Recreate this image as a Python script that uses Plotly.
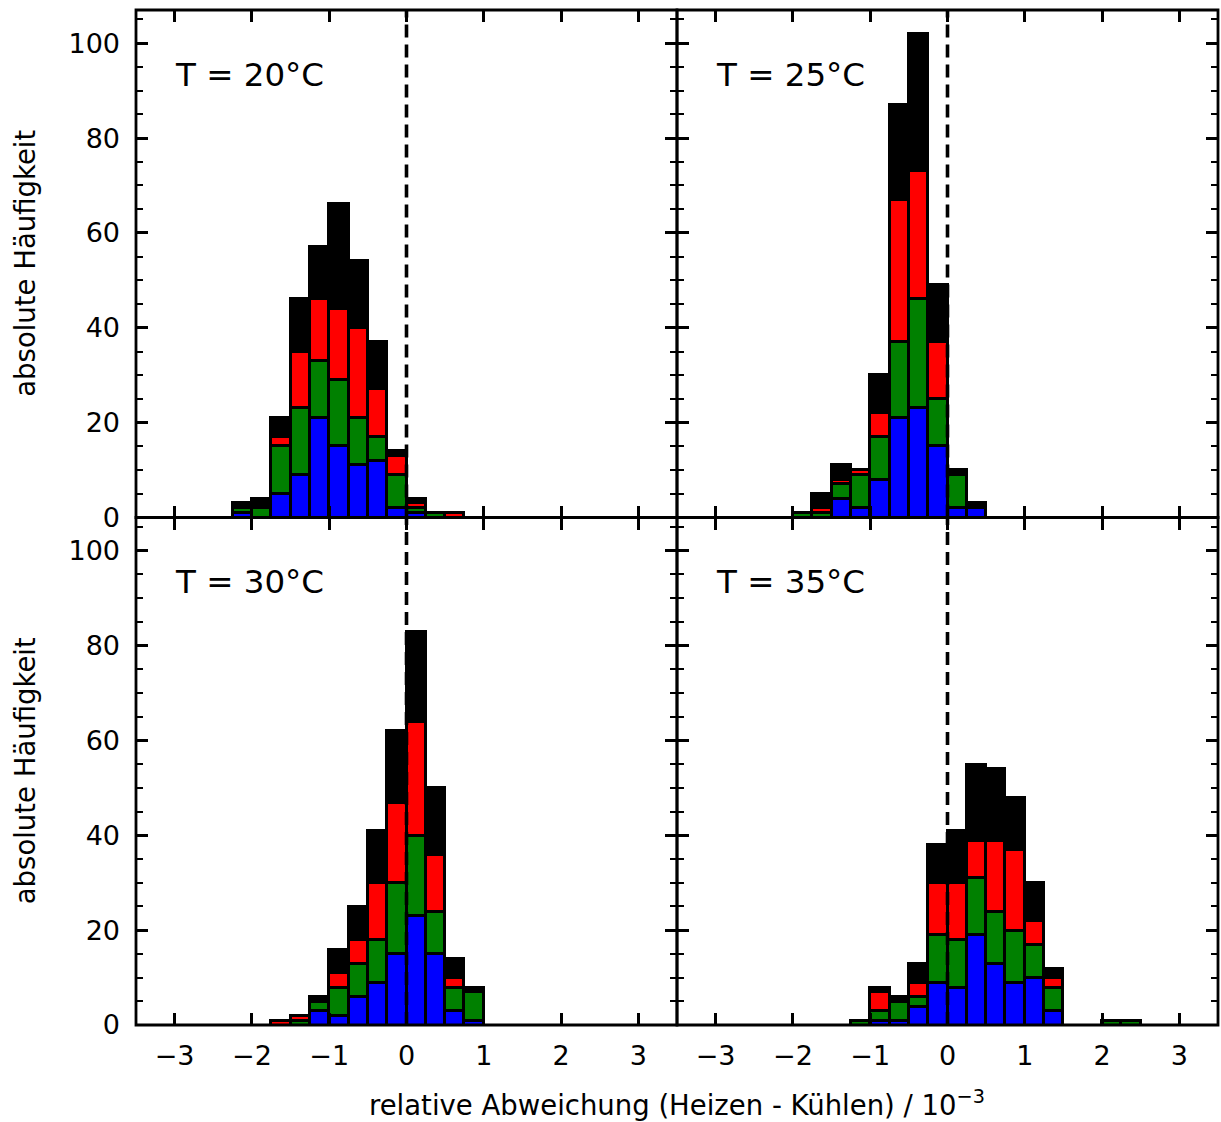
import plotly.graph_objects as go
from plotly.subplots import make_subplots

# Histogram bins: width 0.25, left edges from -2.25 up to 2.25 (units of 1e-3)
bin_width = 0.25
bin_left = [-2.25, -2.0, -1.75, -1.5, -1.25, -1.0, -0.75, -0.5, -0.25,
            0.0, 0.25, 0.5, 0.75, 1.0, 1.25, 1.5, 1.75, 2.0, 2.25]

temperatures = ["T = 20°C", "T = 25°C", "T = 30°C", "T = 35°C"]

# Counts per bin for each stacked layer (blue bottom, then green, red, black)
t20_blue  = [1, 0, 5, 9, 21, 15, 11, 12, 2, 1, 0, 0, 0, 0, 0, 0, 0, 0, 0]
t20_green = [1, 2, 10, 14, 12, 14, 10, 5, 7, 1, 1, 0, 0, 0, 0, 0, 0, 0, 0]
t20_red   = [0, 0, 2, 12, 13, 15, 19, 10, 4, 1, 0, 1, 0, 0, 0, 0, 0, 0, 0]
t20_black = [1, 2, 4, 11, 11, 22, 14, 10, 1, 1, 0, 0, 0, 0, 0, 0, 0, 0, 0]

t25_blue  = [0, 0, 0, 4, 2, 8, 21, 23, 15, 2, 2, 0, 0, 0, 0, 0, 0, 0, 0]
t25_green = [0, 1, 1, 3, 7, 9, 16, 23, 10, 7, 0, 0, 0, 0, 0, 0, 0, 0, 0]
t25_red   = [0, 0, 1, 1, 1, 5, 30, 27, 12, 0, 0, 0, 0, 0, 0, 0, 0, 0, 0]
t25_black = [0, 0, 3, 3, 0, 8, 20, 29, 12, 1, 1, 0, 0, 0, 0, 0, 0, 0, 0]

t30_blue  = [0, 0, 0, 0, 3, 2, 6, 9, 15, 23, 15, 3, 1, 0, 0, 0, 0, 0, 0]
t30_green = [0, 0, 0, 1, 2, 6, 7, 9, 15, 17, 9, 5, 6, 0, 0, 0, 0, 0, 0]
t30_red   = [0, 0, 1, 1, 0, 3, 5, 12, 17, 24, 12, 2, 0, 0, 0, 0, 0, 0, 0]
t30_black = [0, 0, 0, 0, 1, 5, 7, 11, 15, 19, 14, 4, 1, 0, 0, 0, 0, 0, 0]

t35_blue  = [0, 0, 0, 0, 0, 1, 1, 4, 9, 8, 19, 13, 9, 10, 3, 0, 0, 0, 0]
t35_green = [0, 0, 0, 0, 1, 2, 4, 2, 10, 10, 12, 11, 11, 7, 5, 0, 0, 1, 1]
t35_red   = [0, 0, 0, 0, 0, 4, 0, 3, 11, 12, 8, 15, 17, 5, 2, 0, 0, 0, 0]
t35_black = [0, 0, 0, 0, 0, 1, 1, 4, 8, 11, 16, 15, 11, 8, 2, 0, 0, 0, 0]

panels = [
    (1, 1, temperatures[0], [t20_blue, t20_green, t20_red, t20_black]),
    (1, 2, temperatures[1], [t25_blue, t25_green, t25_red, t25_black]),
    (2, 1, temperatures[2], [t30_blue, t30_green, t30_red, t30_black]),
    (2, 2, temperatures[3], [t35_blue, t35_green, t35_red, t35_black]),
]
layer_colors = ["#0000ff", "#008000", "#ff0000", "#000000"]

x_ticks = [-3, -2, -1, 0, 1, 2, 3]
x_ticktext = ["\u22123", "\u22122", "\u22121", "0", "1", "2", "3"]
y_ticks = [0, 20, 40, 60, 80, 100]

FONT = "DejaVu Sans"
FRAME_W = 2.8

fig = make_subplots(rows=2, cols=2, horizontal_spacing=0, vertical_spacing=0)

centers = [b + bin_width / 2 for b in bin_left]

for row, col, label, layers in panels:
    for color, counts in zip(layer_colors, layers):
        fig.add_trace(
            go.Bar(
                x=centers,
                y=[c if c > 0 else None for c in counts],
                width=bin_width,
                marker=dict(color=color, line=dict(color="black", width=2.7)),
                showlegend=False,
            ),
            row=row, col=col,
        )
    fig.add_vline(x=0, row=row, col=col,
                  line=dict(color="black", width=3.6, dash="13px,7px"))
    # panel frame centred on the domain edges, so shared edges stay single
    fig.add_shape(type="rect", xref="x domain", yref="y domain",
                  x0=0, x1=1, y0=0, y1=1,
                  line=dict(color="black", width=FRAME_W),
                  row=row, col=col)
    fig.add_annotation(
        text=label, xref="x domain", yref="y domain",
        x=0.068, y=0.872, xanchor="left", yanchor="middle",
        showarrow=False, font=dict(family=FONT, size=32.5, color="black"),
        row=row, col=col,
    )

axis_common = dict(
    showline=False, mirror="ticks",
    ticks="inside", ticklen=12, tickwidth=2.8, tickcolor="black",
    showgrid=False, zeroline=False,
    tickfont=dict(family=FONT, size=27, color="black"),
)

for row in (1, 2):
    for col in (1, 2):
        fig.update_xaxes(
            range=[-3.5, 3.5], tickvals=x_ticks, ticktext=x_ticktext,
            showticklabels=(row == 2), ticklabelstandoff=12,
            row=row, col=col, **axis_common,
        )
        fig.update_yaxes(
            range=[0, 107], tickvals=y_ticks,
            minor=dict(ticks="inside", ticklen=7, tickwidth=2, dtick=5,
                       tickcolor="black"),
            showticklabels=(col == 1), ticklabelstandoff=15,
            row=row, col=col, **axis_common,
        )

# Shared axis titles
for yc in (0.75, 0.25):
    fig.add_annotation(
        text="absolute Häufigkeit", xref="paper", yref="paper",
        x=0, y=yc, xshift=-111, xanchor="center", yanchor="middle",
        textangle=-90, showarrow=False,
        font=dict(family=FONT, size=27.5, color="black"),
    )
fig.add_annotation(
    text="relative Abweichung (Heizen - Kühlen) / 10<sup>\u22123</sup>",
    xref="paper", yref="paper", x=0.5, y=0, yshift=-78,
    xanchor="center", yanchor="middle", showarrow=False,
    font=dict(family=FONT, size=27.5, color="black"),
)

fig.update_layout(
    width=1221, height=1122,
    margin=dict(l=136, r=3, t=10, b=97),
    barmode="stack", bargap=0,
    plot_bgcolor="white", paper_bgcolor="white",
    font=dict(family=FONT, color="black"),
)

fig.write_html("out.html")
